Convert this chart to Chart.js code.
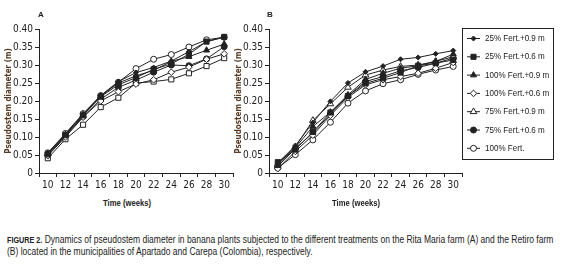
<!DOCTYPE html>
<html><head><meta charset="utf-8">
<script src="https://cdn.jsdelivr.net/npm/chart.js@4"></script>
<style>
html,body{margin:0;padding:0;background:#fff;width:577px;height:266px;overflow:hidden;}
body{position:relative;font-family:'Liberation Sans','DejaVu Sans Condensed',sans-serif;color:#222;}
.abs{position:absolute;}
#cA{left:0;top:0;}
#cB{left:230px;top:0;}
.panel{font-weight:bold;font-size:8px;}
.xt{font-weight:bold;font-size:9px;top:198px;white-space:nowrap;transform:translateX(-50%) scaleX(0.85);}
#cap{left:7px;top:234px;font-size:10px;line-height:12px;color:#222;white-space:nowrap;transform:scaleX(0.85);transform-origin:0 0;}
#cap b{font-size:8.5px;}
</style></head>
<body>
<canvas id="cA" class="abs" width="240" height="196"></canvas>
<canvas id="cB" class="abs" width="335" height="196"></canvas>
<div class="abs panel" style="left:38px;top:10px;">A</div>
<div class="abs panel" style="left:267px;top:10px;">B</div>
<div class="abs xt" style="left:127px;">Time (weeks)</div>
<div class="abs xt" style="left:356px;">Time (weeks)</div>
<div id="cap" class="abs"><b>FIGURE 2.</b> Dynamics of pseudostem diameter in banana plants subjected to the different treatments on the Rita Maria farm (A) and the Retiro farm<br>(B) located in the municipalities of Apartado and Carepa (Colombia), respectively.</div>
<script>
const weeks = ['10','12','14','16','18','20','22','24','26','28','30'];
const seriesNames = ['25% Fert.+0.9 m','25% Fert.+0.6 m','100% Fert.+0.9 m','100% Fert.+0.6 m','75% Fert.+0.9 m','75% Fert.+0.6 m','100% Fert.'];
const yTicks = [0,0.05,0.10,0.15,0.20,0.25,0.30,0.35,0.40];

// Farm A (Rita Maria)
const a_25_09  = [0.055,0.108,0.163,0.215,0.254,0.279,0.293,0.311,0.337,0.365,0.377];
const a_25_06  = [0.052,0.105,0.160,0.212,0.245,0.265,0.288,0.303,0.330,0.365,0.378];
const a_100_09 = [0.054,0.107,0.162,0.214,0.250,0.270,0.285,0.310,0.323,0.341,0.358];
const a_100_06 = [0.048,0.100,0.155,0.200,0.226,0.247,0.259,0.280,0.294,0.316,0.331];
const a_75_09  = [0.041,0.094,0.134,0.183,0.209,0.250,0.254,0.260,0.277,0.297,0.319];
const a_75_06  = [0.050,0.103,0.157,0.205,0.238,0.258,0.280,0.300,0.298,0.317,0.351];
const a_100    = [0.056,0.110,0.165,0.215,0.252,0.290,0.316,0.329,0.350,0.370,0.377];

// Farm B (Retiro)
const b_25_09  = [0.028,0.076,0.140,0.199,0.250,0.281,0.297,0.316,0.321,0.331,0.340];
const b_25_06  = [0.030,0.065,0.114,0.168,0.214,0.249,0.263,0.279,0.298,0.305,0.314];
const b_100_09 = [0.020,0.070,0.129,0.169,0.217,0.260,0.277,0.291,0.298,0.310,0.330];
const b_100_06 = [0.012,0.060,0.105,0.160,0.210,0.245,0.259,0.268,0.277,0.291,0.307];
const b_75_09  = [0.025,0.072,0.146,0.192,0.238,0.272,0.286,0.296,0.300,0.310,0.323];
const b_75_06  = [0.018,0.068,0.111,0.164,0.214,0.254,0.268,0.284,0.293,0.305,0.319];
const b_100    = [0.014,0.051,0.092,0.141,0.194,0.228,0.248,0.259,0.274,0.286,0.296];

const FONT = "'DejaVu Sans Condensed','Liberation Sans',sans-serif";
const LINE = '#222';
const stylesB = [
  {pointStyle:'rectRot', r:2.5, fill:LINE},
  {pointStyle:'rect', r:3.6, fill:LINE},
  {pointStyle:'triangle', r:3.5, fill:LINE},
  {pointStyle:'rectRot', r:3.3, fill:'#fff'},
  {pointStyle:'triangle', r:3.8, fill:'#fff'},
  {pointStyle:'circle', r:3, fill:LINE},
  {pointStyle:'circle', r:3, fill:'#fff'}
];
const stylesA = stylesB.map((s,i)=> i===4 ? {pointStyle:'rect', r:3.6, fill:'#fff'} : s);

function makeDatasets(arrays, styles){
  return arrays.map((d,i)=>({
    label: seriesNames[i], data: d,
    borderColor: LINE, borderWidth: 1,
    pointStyle: styles[i].pointStyle, pointRadius: styles[i].r,
    pointBackgroundColor: styles[i].fill, pointBorderColor: LINE, pointBorderWidth: 1,
    tension: 0, fill:false
  }));
}

function makeOptions(padRight){
  return {
    responsive:false, animation:false, devicePixelRatio:1,
    layout:{padding:{top:29,right:padRight,left:0,bottom:0}},
    plugins:{legend:{display:false}, tooltip:{enabled:false}},
    scales:{
      x:{
        type:'category', offset:true,
        grid:{display:true, drawOnChartArea:false, drawTicks:true, tickLength:4, offset:true, color:'#222'},
        border:{display:true, color:'#222', width:1},
        ticks:{font:{family:FONT,size:10}, color:'#222', maxRotation:0, padding:2},
        afterFit:(s)=>{s.height = 23;}
      },
      y:{
        min:0, max:0.4,
        afterBuildTicks:(s)=>{s.ticks = yTicks.map(v=>({value:v}));},
        grid:{display:true, drawOnChartArea:false, drawTicks:true, tickLength:4, color:'#222'},
        border:{display:true, color:'#222', width:1},
        ticks:{font:{family:FONT,size:10}, color:'#222', padding:2,
          callback:(v)=> v===0 ? '0' : Number(v).toFixed(2)},
        title:{display:true, text:'Pseudostem diameter (m)', color:'#5a3c24',
          font:{family:FONT,size:8,weight:'bold'}, padding:{top:4,bottom:0}},
        afterFit:(s)=>{s.width = 39;}
      }
    }
  };
}

const boxLegend = {
  id:'boxLegend',
  afterDraw(chart){
    const ctx = chart.ctx;
    const bx = 232, by = 28, bw = 91, bh = 131;
    ctx.save();
    ctx.fillStyle = '#fff';
    ctx.fillRect(bx, by, bw, bh);
    ctx.strokeStyle = '#222'; ctx.lineWidth = 1;
    ctx.strokeRect(bx+0.5, by+0.5, bw, bh);
    chart.data.datasets.forEach((ds,i)=>{
      const y = 38.5 + i*18.3;
      ctx.strokeStyle = LINE; ctx.lineWidth = 1;
      ctx.beginPath(); ctx.moveTo(bx+5, y); ctx.lineTo(bx+18, y); ctx.stroke();
      ctx.fillStyle = ds.pointBackgroundColor; ctx.strokeStyle = LINE;
      Chart.helpers.drawPoint(ctx, {pointStyle:ds.pointStyle, radius:ds.pointRadius, borderWidth:1, rotation:0}, bx+11.5, y);
      ctx.save();
      ctx.fillStyle = '#222';
      ctx.font = "9.6px 'Liberation Sans',sans-serif";
      ctx.textBaseline = 'middle'; ctx.textAlign = 'left';
      ctx.translate(bx+23, y);
      ctx.scale(0.84, 1);
      ctx.fillText(ds.label, 0, 0);
      ctx.restore();
    });
    ctx.restore();
  }
};

new Chart(document.getElementById('cA'), {
  type:'line',
  data:{labels:weeks, datasets:makeDatasets([a_25_09,a_25_06,a_100_09,a_100_06,a_75_09,a_75_06,a_100], stylesA)},
  options:makeOptions(7)
});
new Chart(document.getElementById('cB'), {
  type:'line',
  data:{labels:weeks, datasets:makeDatasets([b_25_09,b_25_06,b_100_09,b_100_06,b_75_09,b_75_06,b_100], stylesB)},
  options:makeOptions(103),
  plugins:[boxLegend]
});
</script>
</body></html>
